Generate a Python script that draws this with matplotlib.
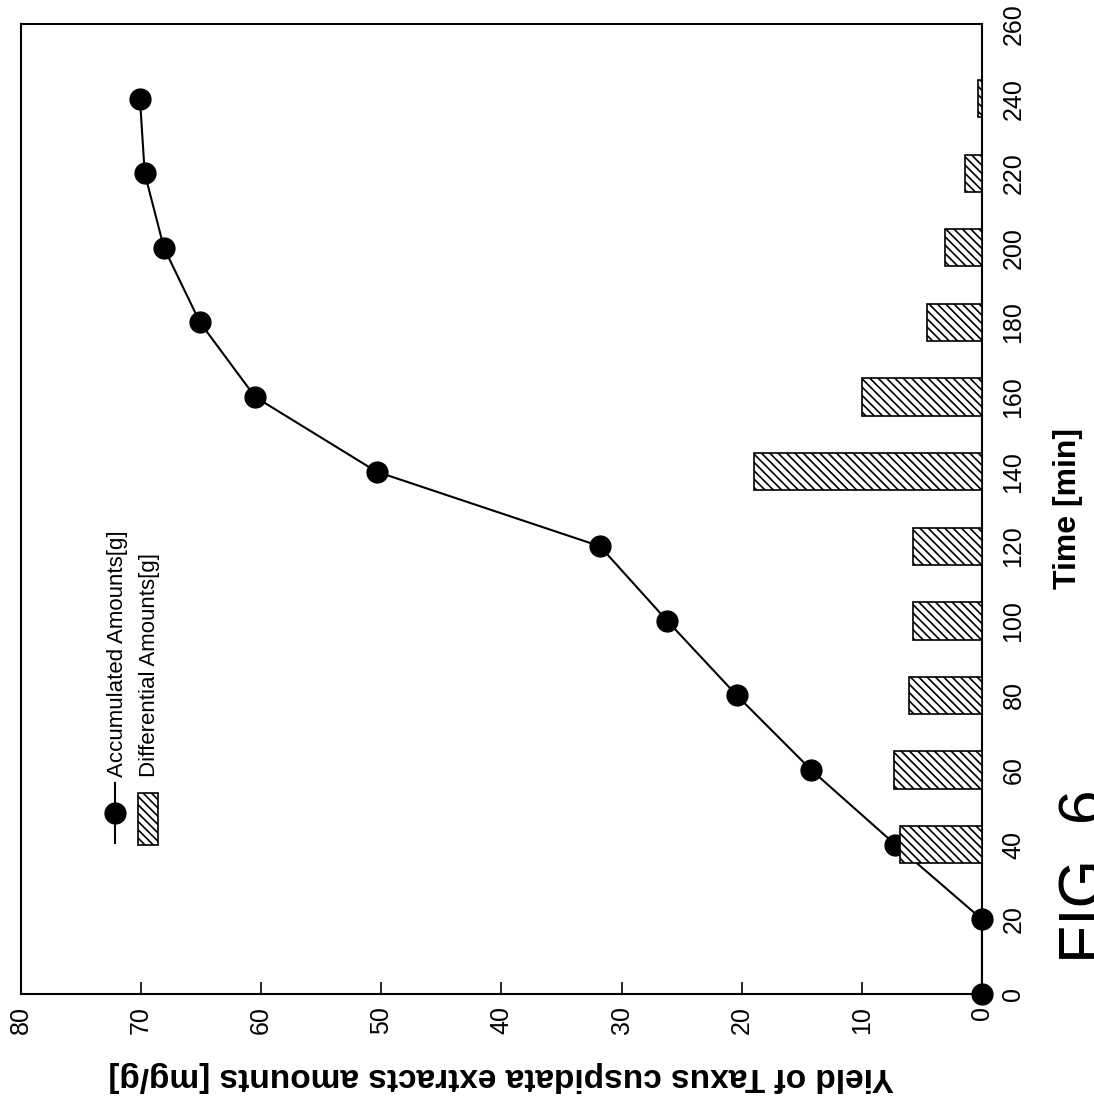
import matplotlib
matplotlib.use("Agg")
import matplotlib.pyplot as plt
from matplotlib.patches import Rectangle

plt.rcParams["font.family"] = ["Liberation Sans", "DejaVu Sans"]
plt.rcParams["hatch.linewidth"] = 1.2

# Extraction data: time in minutes, yield in mg/g
time_min = [0, 20, 40, 60, 80, 100, 120, 140, 160, 180, 200, 220, 240]
accumulated = [0, 0, 7.2, 14.2, 20.4, 26.2, 31.8, 50.4, 60.5, 65.1, 68.1, 69.7, 70.1]

bar_time = [40, 60, 80, 100, 120, 140, 160, 180, 200, 220, 240]
differential = [6.8, 7.3, 6.1, 5.75, 5.75, 19.0, 10.0, 4.6, 3.1, 1.4, 0.35]

yield_ticks = list(range(0, 90, 10))
time_ticks = list(range(0, 280, 20))

HATCH = "\\\\\\\\"

fig = plt.figure(figsize=(10.94, 11.05), dpi=100)
# figure is laid out sideways: time runs upward, yield runs leftward
ax = fig.add_axes([0.0192, 0.1005, 0.8784, 0.8778])

ax.plot(accumulated, time_min, color="black", lw=1.5, marker="o", ms=15,
        zorder=2, clip_on=False)
ax.barh(bar_time, differential, height=10, color="white", edgecolor="black",
        hatch=HATCH, linewidth=1.2, zorder=3)

ax.set_xlim(80, 0)
ax.set_ylim(0, 260)
ax.set_xticks(yield_ticks)
ax.set_yticks(time_ticks)

ax.yaxis.tick_right()
ax.yaxis.set_label_position("right")
ax.tick_params(axis="x", direction="in", length=9, width=1.2, pad=9,
               labelsize=18, labelrotation=90, top=False)
ax.tick_params(axis="y", length=0, pad=14, labelsize=18, labelrotation=90,
               left=False)
for lbl in ax.get_yticklabels():
    lbl.set_verticalalignment("center")
    lbl.set_horizontalalignment("left")

for sp in ax.spines.values():
    sp.set_linewidth(1.5)

ax.set_xlabel("Yield of Taxus cuspidata extracts amounts [mg/g]",
              fontsize=24, fontweight="bold", rotation=180, labelpad=19)
ax.set_ylabel("Time [min]", fontsize=23, fontweight="bold", rotation=90,
              labelpad=31, va="center")

# legend drawn by hand so it can sit sideways
ax.plot([0.0978, 0.0978], [0.1557, 0.2175], transform=ax.transAxes,
        color="black", lw=1.5, clip_on=False)
ax.plot([0.0978], [0.1866], "o", ms=15, color="black", transform=ax.transAxes)
ax.add_patch(Rectangle((0.1217, 0.1536), 0.0209, 0.0536, transform=ax.transAxes,
                       facecolor="white", edgecolor="black", hatch=HATCH, lw=1.2))
ax.text(0.0999, 0.2237, "Accumulated Amounts[g]", transform=ax.transAxes,
        rotation=90, ha="center", va="bottom", fontsize=16)
ax.text(0.1342, 0.2237, "Differential Amounts[g]", transform=ax.transAxes,
        rotation=90, ha="center", va="bottom", fontsize=16)

fig.text(1058 / 1094, 1 - 963 / 1105, "FIG. 6", rotation=90, ha="left",
         va="bottom", fontsize=45)

fig.savefig("out.png", dpi=100)
